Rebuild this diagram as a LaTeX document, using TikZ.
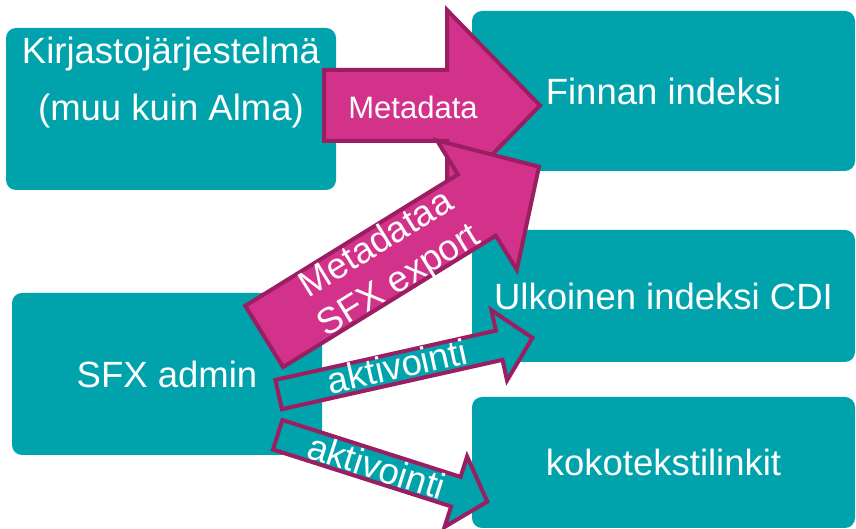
\documentclass[tikz,border=0pt]{standalone}
\usepackage{fontspec}
\setmainfont{Liberation Sans}
\usepackage{tikz}
\usetikzlibrary{positioning}
\definecolor{finnateal}{HTML}{00A3AC}
\definecolor{finnapink}{HTML}{D3328A}
\definecolor{finnaplum}{HTML}{9B1E62}
\tikzset{
	box/.style={fill=finnateal, rounded corners=10pt, inner sep=0pt, text=white},
	bigtext/.style={text=white, inner sep=0pt, font=\fontsize{36.5}{57}\selectfont, align=center},
	arrowtext/.style={text=white, inner sep=0pt, font=\fontsize{36.5}{43}\selectfont, align=center, transform shape},
	pinkarrow/.style={draw=finnaplum, line width=4pt, fill=finnapink},
	tealarrow/.style={draw=finnaplum, line width=4pt, fill=finnateal},
}

\begin{document}
\begin{tikzpicture}[x=1pt,y=1pt]
			\useasboundingbox (0,0) rectangle (856,529);
			\node[box, minimum width=330pt, minimum height=162pt] (kirjasto) at (171,420) {};
			\node[bigtext, below=9pt of kirjasto.north] (kirjastotxt) {Kirjastojärjestelmä\\(muu kuin Alma)};
			\node[box, bigtext, minimum width=310pt, minimum height=162pt] (sfx) at (167,155) {SFX admin};
			\node[box, bigtext, minimum width=383pt, minimum height=160pt] (finna) at (663.5,438) {Finnan indeksi};
			\node[box, bigtext, minimum width=383pt, minimum height=132pt] (cdi) at (663.5,233) {Ulkoinen indeksi CDI};
			\node[box, bigtext, minimum width=383pt, minimum height=131pt] (koko) at (663.5,66.5) {kokotekstilinkit};
			\coordinate (kirjastoout) at (324,423.5);
			\coordinate (sfxout) at (262.5,191.5);
			\coordinate (sfxcdi) at (276.7,134);
			\coordinate (sfxkoko) at (275.8,94.8);
			\begin{scope}[shift={(kirjastoout)}]
				\draw[pinkarrow] (0,-35.5) -- (123,-35.5) -- (123,-95.5) -- (216,0) -- (123,95.5) -- (123,35.5) -- (0,35.5) -- cycle;
				\node[arrowtext, font=\fontsize{31}{40}\selectfont] (metadata) at (89,-1.5) {Metadata};
			\end{scope}
			\begin{scope}[shift={(sfxout)}, rotate=31.7]
				\draw[pinkarrow] (2,-36) -- (252,-36) -- (252,-76) -- (325,0) -- (252,76) -- (252,36) -- (2,36) -- cycle;
				\node[arrowtext] (export) at (146,-3) {Metadataa\\SFX export};
			\end{scope}
			\begin{scope}[shift={(sfxcdi)}, rotate=12.6]
				\draw[tealarrow] (2,-15) -- (228,-15) -- (228,-36) -- (262,0) -- (228,36) -- (228,15) -- (2,15) -- cycle;
				\node[arrowtext] (aktcdi) at (124,2) {aktivointi};
			\end{scope}
			\begin{scope}[shift={(sfxkoko)}, rotate=-17.7]
				\draw[tealarrow] (2,-15.5) -- (189,-15.5) -- (189,-37) -- (222,0) -- (189,37) -- (189,15.5) -- (2,15.5) -- cycle;
				\node[arrowtext] (aktkoko) at (106,0) {aktivointi};
			\end{scope}
\end{tikzpicture}
\end{document}
